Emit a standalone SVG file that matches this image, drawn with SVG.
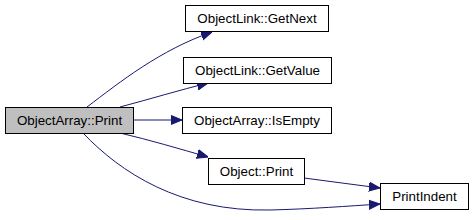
<svg xmlns="http://www.w3.org/2000/svg" width="472" height="220" viewBox="0 0 472 220">
<style>
.n rect{fill:#fff;stroke:#000;stroke-width:1}
.n.cur rect{fill:#bfbfbf}
.n text{font-family:"Liberation Sans",Arial,sans-serif;font-size:13.33px;fill:#000;text-anchor:middle}
.e path{fill:none;stroke:#191970;stroke-width:1}
</style>
<defs>
<marker id="a" viewBox="0 0 10 10" refX="10" refY="5" markerWidth="11" markerHeight="11" markerUnits="userSpaceOnUse" orient="auto">
<path d="M0,1 L10,5 L0,9 Z" fill="#191970" stroke="#191970"/>
</marker>
</defs>
<rect width="472" height="220" fill="#fff"/>
<g class="e">
<path d="M87,107 C120,82 160,50 212,32" marker-end="url(#a)"/>
<path d="M120,107 C150,99 180,90 208,83" marker-end="url(#a)"/>
<path d="M133,120 L182,120" marker-end="url(#a)"/>
<path d="M120,133 C150,140 180,149 208,157" marker-end="url(#a)"/>
<path d="M304,178 L380,188" marker-end="url(#a)"/>
<path d="M83,133 C120,172 180,212 270,210 C310,209 350,206 380,204" marker-end="url(#a)"/>
</g>
<g id="n_print" class="n cur"><rect x="5.5" y="107.5" width="128" height="26"/><text x="69.5" y="125">ObjectArray::Print</text></g>
<g id="n_getnext" class="n"><rect x="185.5" y="5.5" width="143" height="26"/><text x="257" y="23">ObjectLink::GetNext</text></g>
<g id="n_getvalue" class="n"><rect x="183.5" y="57.5" width="148" height="26"/><text x="257.5" y="75">ObjectLink::GetValue</text></g>
<g id="n_isempty" class="n"><rect x="182.5" y="107.5" width="149" height="26"/><text x="257" y="125">ObjectArray::IsEmpty</text></g>
<g id="n_objprint" class="n"><rect x="208.5" y="158.5" width="96" height="26"/><text x="256.5" y="176">Object::Print</text></g>
<g id="n_indent" class="n"><rect x="380.5" y="183.5" width="88" height="26"/><text x="424.5" y="201">PrintIndent</text></g>
</svg>
